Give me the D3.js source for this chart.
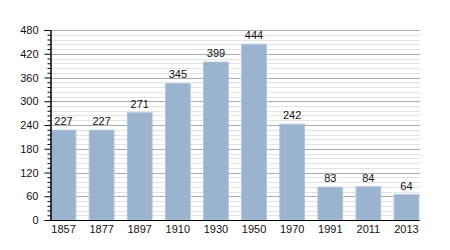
<!DOCTYPE html>
<html>
<head>
<meta charset="utf-8">
<script src="https://cdn.jsdelivr.net/npm/d3@7"></script>
<style>
  body { margin: 0; background: #fff; }
  svg text { font-family: "Liberation Sans", Arial, sans-serif; }
</style>
</head>
<body>
<div id="chart"></div>
<script>
var years = ['1857', '1877', '1897', '1910', '1930', '1950', '1970', '1991', '2011', '2013'];
var population = [227, 227, 271, 345, 399, 444, 242, 83, 84, 64];
var yTicks = [0, 60, 120, 180, 240, 300, 360, 420, 480];

var width = 450,
    height = 250,
    plotLeft = 50,
    plotRight = 420,
    plotTop = 30,
    plotBottom = 220;

var svg = d3.select('#chart').append('svg')
    .attr('width', width)
    .attr('height', height);

var x = d3.scaleBand()
    .domain(years)
    .range([plotLeft, plotRight])
    .paddingInner(0.35)
    .paddingOuter(0.03);

var y = d3.scaleLinear()
    .domain([0, 480])
    .range([plotBottom, plotTop]);

// minor grid lines every 12
var minor = d3.range(12, 480, 12).filter(function(d) { return d % 60 !== 0; });

svg.append('g').selectAll('line')
    .data(minor)
    .enter().append('line')
    .attr('x1', plotLeft)
    .attr('x2', plotRight)
    .attr('y1', function(d) { return Math.round(y(d)) + 0.5; })
    .attr('y2', function(d) { return Math.round(y(d)) + 0.5; })
    .attr('stroke', '#e3e3e3');

svg.append('g').selectAll('line')
    .data(yTicks.slice(1))
    .enter().append('line')
    .attr('x1', plotLeft)
    .attr('x2', plotRight)
    .attr('y1', function(d) { return Math.round(y(d)) + 0.5; })
    .attr('y2', function(d) { return Math.round(y(d)) + 0.5; })
    .attr('stroke', '#acacac');

svg.append('g').selectAll('rect')
    .data(population)
    .enter().append('rect')
    .attr('x', function(d, i) { return x(years[i]); })
    .attr('y', function(d) { return y(d); })
    .attr('width', x.bandwidth())
    .attr('height', function(d) { return plotBottom - y(d); })
    .attr('fill', '#9ab3cf')
    .attr('stroke', '#b1c4da')
    .attr('stroke-width', 1);

svg.append('g').selectAll('text')
    .data(population)
    .enter().append('text')
    .attr('x', function(d, i) { return x(years[i]) + x.bandwidth() / 2; })
    .attr('y', function(d) { return y(d) - 5; })
    .attr('text-anchor', 'middle')
    .attr('font-size', 11)
    .attr('fill', '#111')
    .text(function(d) { return d; });

// y axis with major and minor ticks
var yAxis = svg.append('g')
    .attr('transform', 'translate(' + (plotLeft + 0.5) + ',0)');

yAxis.call(d3.axisLeft(y).tickValues(minor).tickSize(3).tickFormat(''));
yAxis.append('g')
    .call(d3.axisLeft(y).tickValues(yTicks).tickSize(6).tickPadding(6));
yAxis.selectAll('text')
    .attr('font-size', 11)
    .attr('fill', '#111');
yAxis.selectAll('.domain').attr('stroke', '#000');
yAxis.selectAll('line').attr('stroke', '#000');

var xAxis = svg.append('g')
    .attr('transform', 'translate(0,' + (plotBottom + 0.5) + ')')
    .call(d3.axisBottom(x).tickSize(0).tickPadding(5));
xAxis.select('.domain')
    .attr('d', 'M' + plotLeft + ',0H' + plotRight)
    .attr('stroke', '#000');
xAxis.selectAll('text')
    .attr('font-size', 11)
    .attr('fill', '#111');
</script>
</body>
</html>
